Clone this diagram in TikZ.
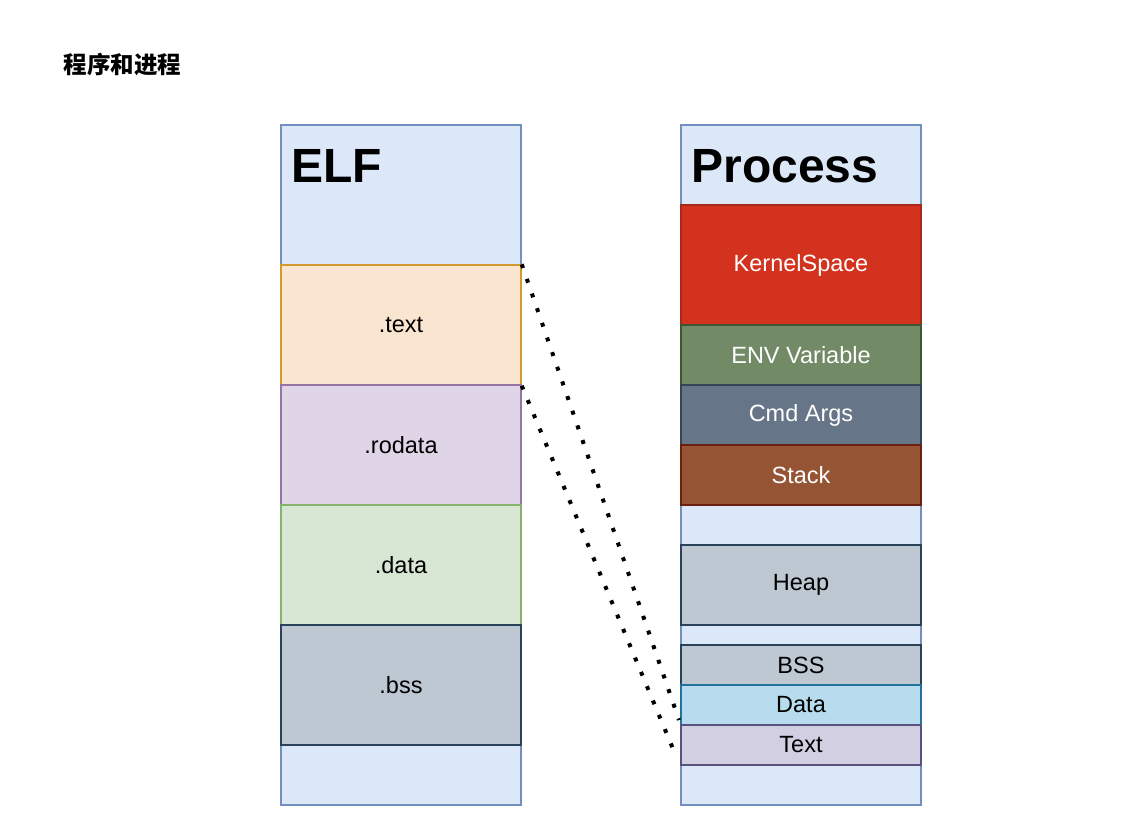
\documentclass[tikz,border=0pt]{standalone}
\usepackage{fontspec}
\setmainfont{Liberation Sans}
\newfontfamily\cjk{Noto Sans CJK SC}
\definecolor{bgblue}{HTML}{DCE7F8}
\definecolor{bdblue}{HTML}{7190C0}
\definecolor{txfill}{HTML}{FAE6D0}
\definecolor{txdraw}{HTML}{D39B2F}
\definecolor{rofill}{HTML}{E0D5E6}
\definecolor{rodraw}{HTML}{9574A6}
\definecolor{dafill}{HTML}{D8E6D4}
\definecolor{dadraw}{HTML}{86B36B}
\definecolor{bsfill}{HTML}{BDC8D2}
\definecolor{bsdraw}{HTML}{2A435B}
\definecolor{ksfill}{HTML}{D3321F}
\definecolor{ksdraw}{HTML}{A8281A}
\definecolor{envfill}{HTML}{728A66}
\definecolor{envdraw}{HTML}{3F5636}
\definecolor{cmdfill}{HTML}{667587}
\definecolor{cmddraw}{HTML}{344556}
\definecolor{stfill}{HTML}{955535}
\definecolor{stdraw}{HTML}{6A2110}
\definecolor{dfill}{HTML}{B7DCEE}
\definecolor{ddraw}{HTML}{22729C}
\definecolor{tfill}{HTML}{D2CFE2}
\definecolor{tdraw}{HTML}{585280}
\tikzset{
	seg/.style = {draw, line width = 1.5pt, minimum width = 240pt, minimum height = #1,
		inner sep = 0pt, font = \fontsize{23.5}{27}\selectfont},
	dotline/.style = {line width = 4pt, dash pattern = on 4pt off 11.5pt}
}

\begin{document}
\begin{tikzpicture}[x = 1pt, y = -1pt]
	\useasboundingbox (0,0) rectangle (1132,840);
	\node [anchor = west, font = \cjk\bfseries\fontsize{23.5}{27}\selectfont] (title) at (60,65) {程序和进程};
	% the two columns
	\node [seg = 680pt, fill = bgblue, draw = bdblue] (elf) at (401,465) {};
	\node [seg = 680pt, fill = bgblue, draw = bdblue] (proc) at (801,465) {};
	\node [anchor = base west, font = \bfseries\fontsize{48}{50}\selectfont] (elfhead) at (288,182) {ELF};
	\node [anchor = base west, font = \bfseries\fontsize{48}{50}\selectfont] (prochead) at (688,182) {Process};
	% ELF sections
	\foreach \nm/\lbl/\yc/\fc/\dc in {
		etext/.text/325/txfill/txdraw,
		erodata/.rodata/445/rofill/rodraw,
		edata/.data/565/dafill/dadraw,
		ebss/.bss/685/bsfill/bsdraw}{
		\node [seg = 120pt, fill = \fc, draw = \dc] (\nm) at (401,\yc) {\lbl};
	}
	% process layout
	\foreach \nm/\lbl/\yc/\h/\fc/\dc/\tc in {
		pkernel/KernelSpace/265/120/ksfill/ksdraw/white,
		penv/ENV Variable/355/60/envfill/envdraw/white,
		pcmd/Cmd Args/415/60/cmdfill/cmddraw/white,
		pstack/Stack/475/60/stfill/stdraw/white,
		pheap/Heap/585/80/bsfill/bsdraw/black,
		pbss/BSS/665/40/bsfill/bsdraw/black,
		pdata/Data/705/40/dfill/ddraw/black,
		ptext/Text/745/40/tfill/tdraw/black}{
		\node [seg = \h pt, fill = \fc, draw = \dc, text = \tc] (\nm) at (801,\yc) {\lbl};
	}
	\coordinate (dataend) at (679,720);
	\coordinate (textend) at (676,756);
	\draw [dotline] (etext.north east) -- (dataend);
	\draw [dotline] (etext.south east) -- (textend);
\end{tikzpicture}
\end{document}
